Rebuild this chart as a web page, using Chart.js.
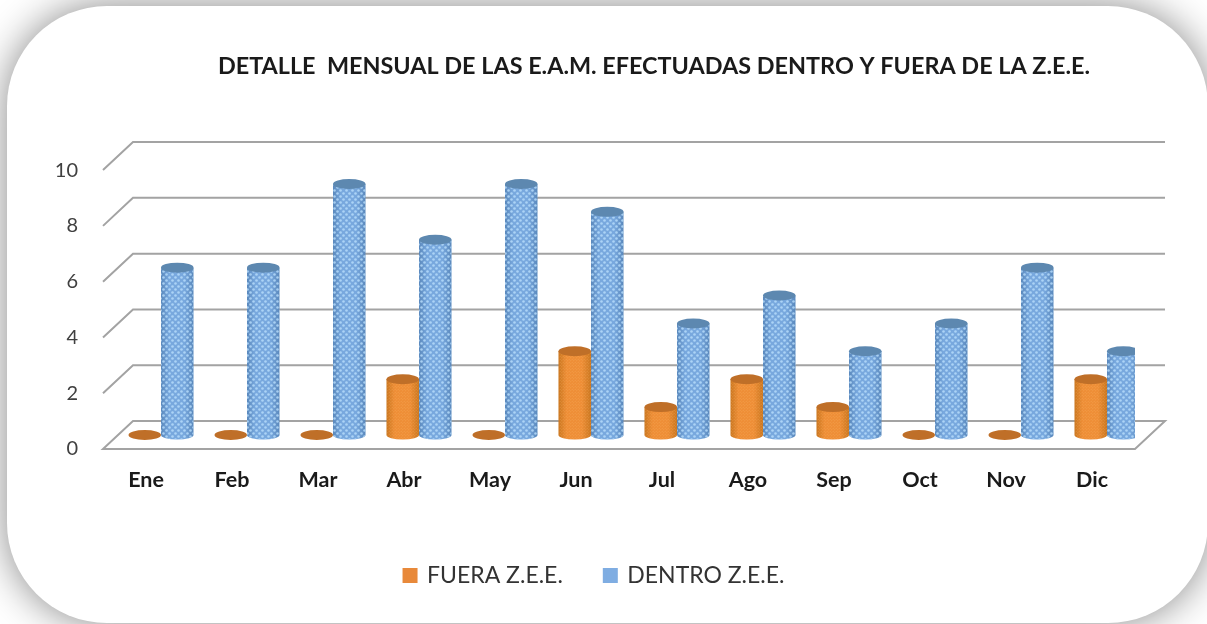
<!DOCTYPE html>
<html>
<head>
<meta charset="utf-8">
<title>Detalle mensual E.A.M.</title>
<script src="https://cdn.jsdelivr.net/npm/chart.js@4"></script>
<style>
  html, body { margin: 0; padding: 0; background: #fff; overflow: hidden; }
  #frame {
    position: absolute; left: 7px; top: 6px; width: 1201px; height: 617px;
    background: #fff; border-radius: 100px;
    box-shadow: 0 0 40px rgba(0, 0, 0, .48);
  }
  #wrap { position: absolute; left: 0; top: 0; width: 1207px; height: 624px; }
</style>
</head>
<body>
<div id="frame"></div>
<div id="wrap"><canvas id="chart" width="1207" height="624"></canvas></div>
<script>
  const TITLE = "DETALLE  MENSUAL DE LAS E.A.M. EFECTUADAS DENTRO Y FUERA DE LA Z.E.E.";
  const months = ["Ene", "Feb", "Mar", "Abr", "May", "Jun", "Jul", "Ago", "Sep", "Oct", "Nov", "Dic"];
  const fueraZee = [0, 0, 0, 2, 0, 3, 1, 2, 1, 0, 0, 2];
  const dentroZee = [6, 6, 9, 7, 9, 8, 4, 5, 3, 4, 6, 3];

  // depth of the fake 3d floor, front plane to back plane
  const DEPTH_X = 30, DEPTH_Y = 28;
  const GRID = "#a3a3a3";

  function dotPattern(ctx, dot, size, r) {
    const c = document.createElement("canvas");
    c.width = c.height = size;
    const p = c.getContext("2d");
    p.fillStyle = dot;
    [[size / 4, size / 4], [size * 3 / 4, size * 3 / 4]].forEach(([x, y]) => {
      p.beginPath(); p.arc(x, y, r, 0, Math.PI * 2); p.fill();
    });
    return ctx.createPattern(c, "repeat");
  }

  const looks = [
    { edge: "#c9761f", mid: "#ee8e36", top: "#bf6f28", dot: "rgba(255,190,120,.35)", size: 3, r: .6 },
    { edge: "#5a88bc", mid: "#78a8de", top: "#5d88b0", dot: "rgba(185,222,253,.8)", size: 6, r: 1.3 }
  ];

  // bars drawn as cylinders, standing half way into the floor
  class CylinderController extends Chart.BarController {
    static id = "cylinder";
    static defaults = Chart.BarController.defaults;
    static overrides = Chart.BarController.overrides;

    draw() {
      const ctx = this._ctx;
      const look = looks[this.index];
      this.getMeta().data.forEach(bar => {
        const cx = bar.x + DEPTH_X / 2, rx = bar.width / 2, ry = 5;
        const top = bar.y - DEPTH_Y / 2, bottom = bar.base - DEPTH_Y / 2;
        if (bottom - top > 1) {
          ctx.save();
          ctx.beginPath();
          ctx.moveTo(cx - rx, top);
          ctx.lineTo(cx - rx, bottom);
          ctx.ellipse(cx, bottom, rx, 4.5, 0, Math.PI, 0, true);
          ctx.lineTo(cx + rx, top);
          ctx.closePath();
          const g = ctx.createLinearGradient(cx - rx, 0, cx + rx, 0);
          g.addColorStop(0, look.edge);
          g.addColorStop(.25, look.mid);
          g.addColorStop(.72, look.mid);
          g.addColorStop(1, look.edge);
          ctx.fillStyle = g;
          ctx.fill();
          ctx.fillStyle = dotPattern(ctx, look.dot, look.size, look.r);
          ctx.fill();
          ctx.restore();
        }
        ctx.beginPath();
        ctx.ellipse(cx, top, rx, ry, 0, 0, Math.PI * 2);
        ctx.fillStyle = look.top;
        ctx.fill();
      });
    }
  }
  Chart.register(CylinderController);

  const floorGrid = {
    id: "floorGrid",
    beforeDatasetsDraw(chart) {
      const { ctx, chartArea: a, scales: { y } } = chart;
      ctx.save();
      ctx.strokeStyle = GRID;
      ctx.lineWidth = 2;
      y.ticks.forEach(t => {
        const py = y.getPixelForValue(t.value);
        ctx.beginPath();
        ctx.moveTo(a.left, py);
        ctx.lineTo(a.left + DEPTH_X, py - DEPTH_Y);
        ctx.lineTo(a.right + DEPTH_X, py - DEPTH_Y);
        if (t.value === 0) {
          ctx.lineTo(a.right, py);
          ctx.closePath();
        }
        ctx.stroke();
      });
      ctx.restore();
    }
  };

  // title and legend do not sit on the middle of the plot in the original
  const placeBoxes = {
    id: "placeBoxes",
    afterLayout(chart) {
      const t = chart.titleBlock, l = chart.legend;
      const tw = t.right - t.left;
      t.left = 654 - tw / 2; t.right = 654 + tw / 2;
      const lw = l.right - l.left;
      l.left = 594.5 - lw / 2; l.right = 594.5 + lw / 2;
      const lh = l.bottom - l.top;
      l.top = 522; l.bottom = 522 + lh;
    }
  };

  new Chart(document.getElementById("chart"), {
    type: "cylinder",
    data: {
      labels: months,
      datasets: [
        // border only shows in the legend, it brings the text closer to the swatch
        { label: "FUERA Z.E.E.", data: fueraZee, backgroundColor: "#e8893a", borderColor: "#e8893a", borderWidth: 4 },
        { label: "DENTRO Z.E.E.", data: dentroZee, backgroundColor: "#7fade2", borderColor: "#7fade2", borderWidth: 4 }
      ]
    },
    options: {
      responsive: false,
      animation: false,
      categoryPercentage: .756,
      barPercentage: 1,
      layout: { padding: { left: 0, right: 72, top: 0, bottom: 0 } },
      plugins: {
        tooltip: { enabled: false },
        title: {
          display: true,
          text: TITLE,
          color: "#1a1a1a",
          font: { family: "Lato", size: 23.4, weight: "bold" },
          padding: { top: 52, bottom: 90 }
        },
        legend: {
          position: "bottom",
          labels: {
            boxWidth: 11, boxHeight: 11, padding: 42,
            color: "#333",
            font: { family: "Lato", size: 23 }
          }
        }
      },
      scales: {
        x: {
          grid: { display: false },
          border: { display: false },
          ticks: { color: "#1a1a1a", font: { family: "Lato", size: 21.5, weight: "bold" }, padding: 10, maxRotation: 0 },
          afterFit: s => { s.height = 100; }
        },
        y: {
          min: 0, max: 10,
          grid: { display: false },
          border: { display: false },
          ticks: { stepSize: 2, color: "#404040", font: { family: "Lato", size: 20 }, padding: 17 },
          afterFit: s => { s.width = 103; }
        }
      }
    },
    plugins: [floorGrid, placeBoxes]
  });
</script>
</body>
</html>
